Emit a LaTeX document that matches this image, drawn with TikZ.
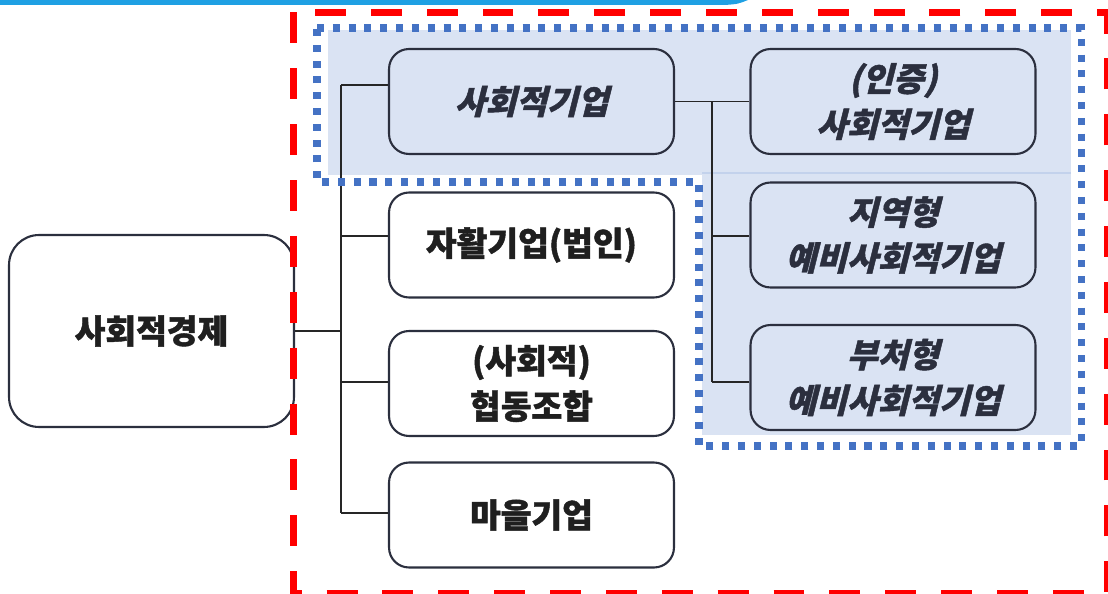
\documentclass[tikz,border=0pt]{standalone}
\usepackage{fontspec}
\newfontfamily\kr{Noto Sans CJK KR}[BoldFeatures={FakeBold=1.3}]
\newfontfamily\krsl{Noto Sans CJK KR}[FakeSlant=0.25, BoldFeatures={FakeBold=1.3}]
\definecolor{groupblue}{HTML}{DAE3F3}
\definecolor{seamblue}{HTML}{C3D2EC}
\definecolor{dotblue}{HTML}{4472C4}
\definecolor{edgegray}{HTML}{2B2F3E}
\definecolor{topbar}{HTML}{1FA0E3}
\tikzset{
  box/.style={rectangle, rounded corners=0.4cm, draw=edgegray, line width=1.2pt,
    minimum width=5.7cm, minimum height=2.1cm, inner sep=0pt, align=center},
  plainbox/.style={box, fill=white, text=black!88, font=\kr\bfseries\fontsize{19}{26}\selectfont},
  slantbox/.style={box, fill=groupblue, text=edgegray, font=\krsl\bfseries\fontsize{19}{26}\selectfont},
  link/.style={draw=black!85, line width=0.9pt},
}
\begin{document}
\begin{tikzpicture}[x=0.02cm, y=-0.02cm]
  \useasboundingbox (0,0) rectangle (1108,594);
  % top bar
  \fill[topbar] (0,0) -- (748,0) .. controls (738,4) .. (725,5) -- (0,5) -- cycle;
  % shaded group
  \fill[groupblue] (328,30) rectangle (1071,175);
  \fill[groupblue] (702,173) rectangle (1071,435);
  \draw[seamblue, line width=0.9pt] (702,173) -- (1071,173);

  \node[plainbox, minimum height=3.84cm, rounded corners=0.6cm] (econ) at (151.5,331) {사회적경제};
  \node[slantbox] (se) at (531.5,101.5) {사회적기업};
  \node[plainbox] (self) at (531.5,245) {자활기업(법인)};
  \node[plainbox] (coop) at (531.5,383.5) {(사회적)\\협동조합};
  \node[plainbox] (vil) at (531.5,515) {마을기업};
  \node[slantbox] (cert) at (893,101.5) {(인증)\\사회적기업};
  \node[slantbox] (reg) at (893,235) {지역형\\예비사회적기업};
  \node[slantbox] (dept) at (893,377.5) {부처형\\예비사회적기업};

  \coordinate (lt) at (341,85);
  \coordinate (lb) at (341,513);
  \coordinate (rt) at (712,101.5);
  \coordinate (rb) at (712,382);
  \draw[link] (lt) -- (lb);
  \draw[link] (rt) -- (rb);
  \draw[link] (econ.east) -- (econ.east -| lt);
  \draw[link] (se.east) -- (cert.west);
  \foreach \dest/\dy in {se/16.5, self/9, coop/1.5, vil/2}
    \draw[link] ([yshift=\dy*0.02cm]\dest.west) -- ([yshift=\dy*0.02cm]\dest.west -| lt);
  \foreach \dest/\dy in {reg/-1, dept/-4.5}
    \draw[link] ([yshift=\dy*0.02cm]\dest.west) -- ([yshift=\dy*0.02cm]\dest.west -| rt);

  % dotted outline
  \draw[dotblue, line width=4pt, dash pattern=on 4pt off 5pt]
    (317,28) -- (1081,28) -- (1081,446) -- (699,446) -- (699,182) -- (317,182) -- cycle;
  % red dashed frame
  \draw[red, line width=4pt, dash pattern=on 17.6pt off 14.2pt]
    (293.5,12.5) rectangle (1107,594);
\end{tikzpicture}
\end{document}
